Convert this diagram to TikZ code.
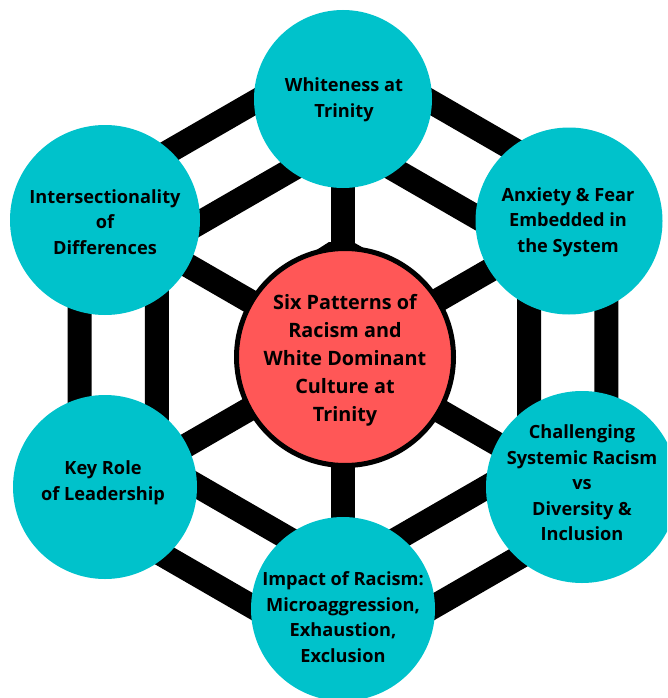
\documentclass[tikz,border=0pt]{standalone}
\usepackage{fontspec}
\setmainfont{Open Sans}
\usetikzlibrary{calc}
\begin{document}
\begin{tikzpicture}[x=1pt,y=-1pt,
  bar/.style={line width=24pt,line join=miter,line cap=butt,draw=black},
  bubble/.style={circle,fill=tealc,draw=none,inner sep=0pt},
  outertext/.style={align=center,text=black,inner sep=0pt,
    font=\bfseries\fontsize{18.2}{25.5}\selectfont},
  centertext/.style={align=center,text=black,inner sep=0pt,
    font=\bfseries\fontsize{19.8}{28}\selectfont}]
\definecolor{tealc}{HTML}{00C2CB}
\definecolor{redc}{HTML}{FF5757}
\useasboundingbox (0,0) rectangle (667,698);
\clip (0,0) rectangle (667,698);

% hexagon web: outer ring, inner ring, spokes
\coordinate (hc) at (343,355);
\foreach \a [count=\i] in {90,30,-30,-90,-150,150}{
  \coordinate (o\i) at ($(hc)+({304*cos(\a)},{-304*sin(\a)})$);
  \coordinate (n\i) at ($(hc)+({215*cos(\a)},{-215*sin(\a)})$);
}
\draw[bar] (o1) -- (o2) -- (o3) -- (o4) -- (o5) -- (o6) -- cycle;
\draw[bar] (n1) -- (n2) -- (n3) -- (n4) -- (n5) -- (n6) -- cycle;
\foreach \i in {1,...,6}{ \draw[bar] (hc) -- (o\i); }

% hub with its black rim and the cap under the top spoke
\fill[black] (329,242) -- (268,281) -- (422,281) -- (353,242) -- cycle;
\node[circle,fill=redc,draw=black,line width=5pt,minimum size=217pt,inner sep=0pt] (hub) at (345,357) {};
\node[centertext] (hubt) at (345,360) {Six Patterns of\\Racism and\\White Dominant\\Culture at\\Trinity};

% surrounding bubbles
\node[bubble,minimum size=178pt] (ctop) at (343,99) {};
\node[bubble,minimum size=190pt] (cul) at (105,220) {};
\node[bubble,minimum size=187pt] (cur) at (569,221) {};
\node[bubble,minimum size=184pt] (cll) at (105,487) {};
\node[bubble,minimum size=192pt] (clr) at (582,487) {};
\node[bubble,minimum size=184pt] (cbot) at (343,609) {};

\node[outertext] (ttop) at (344,100) {Whiteness at\\Trinity};
\node[outertext] (tul) at (105,222) {Intersectionality\\of\\Differences};
\node[outertext] (tur) at (568,222) {Anxiety \& Fear\\Embedded in\\the System};
\node[outertext] (tlr) at (582,483) {Challenging\\Systemic Racism\\vs\\Diversity \&\\Inclusion};
\node[outertext] (tll) at (103,483) {Key Role\\of Leadership};
\node[outertext] (tbot) at (343,617) {Impact of Racism:\\Microaggression,\\Exhaustion,\\Exclusion};
\end{tikzpicture}
\end{document}
